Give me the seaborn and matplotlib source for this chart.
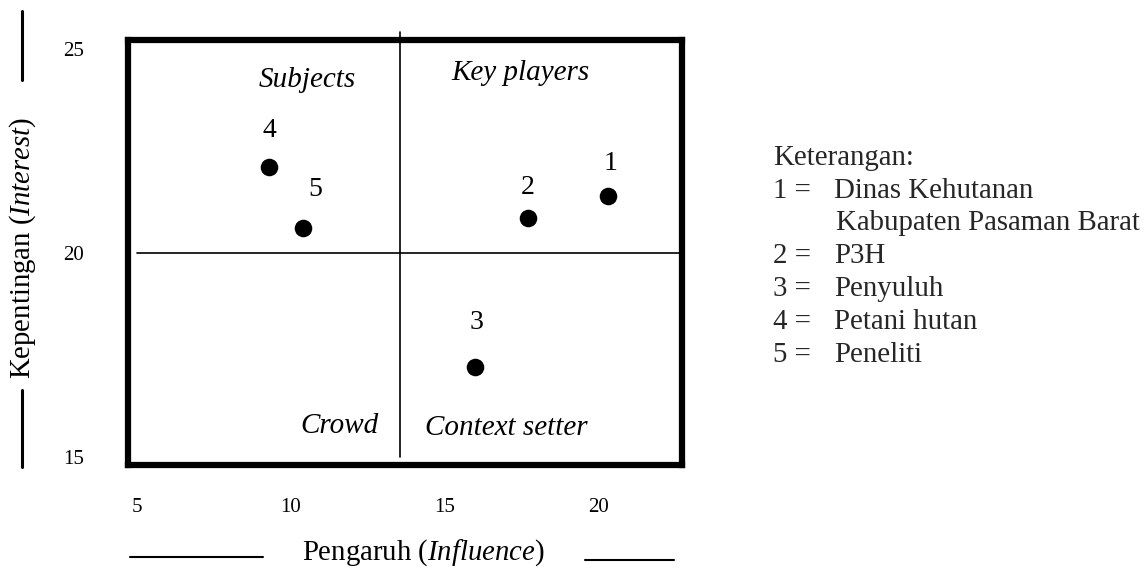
import matplotlib
matplotlib.use("Agg")
import matplotlib.pyplot as plt
from matplotlib.lines import Line2D
import seaborn as sns
import pandas as pd

# ---- data ----
stakeholder_ids = ["1", "2", "3", "4", "5"]
stakeholder_names = ["Dinas Kehutanan\nKabupaten Pasaman Barat", "P3H", "Penyuluh",
                     "Petani hutan", "Peneliti"]
influence = [20.3, 17.7, 16.0, 9.3, 10.4]
interest = [21.4, 20.85, 17.2, 22.1, 20.6]
x_ticks = [5, 10, 15, 20]
y_ticks = [15, 20, 25]
quadrant_names = ["Subjects", "Key players", "Crowd", "Context setter"]
mid_influence = 13.55
mid_interest = 20.0

df = pd.DataFrame({"id": stakeholder_ids, "influence": influence, "interest": interest})

sns.set_theme(style="white")
plt.rcParams["font.family"] = ["Liberation Serif", "DejaVu Serif"]
plt.rcParams["mathtext.fontset"] = "custom"
plt.rcParams["mathtext.rm"] = "Liberation Serif"
plt.rcParams["mathtext.it"] = "Liberation Serif:italic"

W, H = 1146, 569
fig = plt.figure(figsize=(W / 100, H / 100), dpi=100)
ax = fig.add_axes([128 / W, 1 - 465 / H, 554 / W, 425 / H])

ax.set_xlim(4.71, 22.71)
ax.set_ylim(14.80, 25.21)

sns.scatterplot(data=df, x="influence", y="interest", ax=ax, color="black",
                s=160, edgecolor="black", linewidth=0, zorder=3, legend=False)

# point number labels (offsets in points)
offsets = {"1": (2, 23), "2": (0, 22), "3": (1, 32), "4": (0, 26), "5": (9, 28)}
for i, row in df.iterrows():
    ax.annotate(row["id"], (row["influence"], row["interest"]),
                xytext=offsets[row["id"]], textcoords="offset points",
                ha="center", va="center", fontsize=20, color="black")

# quadrant dividers
ax.plot([mid_influence, mid_influence], [25.41, 14.99], color="black", lw=1.2,
        clip_on=False, zorder=2)
ax.plot([5.0, 22.64], [mid_interest, mid_interest], color="black", lw=1.2,
        clip_on=False, zorder=2)

# quadrant names
quad_pos = [(307, 80), (520, 73), (339, 426), (506, 428)]
for name, (px, py) in zip(quadrant_names, quad_pos):
    ax.text((px - 128) / 554, (465 - py) / 425, name, transform=ax.transAxes,
            ha="center", va="center", fontsize=21, style="italic", color="black")

# frame
for sp in ax.spines.values():
    sp.set_visible(True)
    sp.set_color("black")
    sp.set_linewidth(4.5)

ax.set_xticks(x_ticks)
ax.set_yticks(y_ticks)
ax.set_xticklabels([str(t) for t in x_ticks])
ax.set_yticklabels([str(t) for t in y_ticks])
ax.tick_params(axis="x", length=0, pad=24, labelsize=15, colors="black")
ax.tick_params(axis="y", length=0, pad=32, labelsize=15, colors="black")

ax.set_xlabel(r"Pengaruh ($\mathit{Influence}$)", fontsize=20.7, color="black")
ax.xaxis.set_label_coords((423 - 128) / 554, (465 - 553) / 425)
ax.xaxis.label.set_va("center")
ax.set_ylabel(r"Kepentingan ($\mathit{Interest}$)", fontsize=20.7, color="black")
ax.yaxis.set_label_coords((23 - 128) / 554, (465 - 248) / 425)
ax.yaxis.label.set_va("center")

# decorative rules around axis labels (figure pixel coords)
def px_line(x0, y0, x1, y1, lw):
    fig.add_artist(Line2D([x0 / W, x1 / W], [1 - y0 / H, 1 - y1 / H],
                          transform=fig.transFigure, color="black", lw=lw))

px_line(22, 11, 22, 80, 2.2)
px_line(22, 390, 22, 467, 2.2)
px_line(130, 557, 263, 557, 1.5)
px_line(585, 560, 674, 560, 1.5)

# legend text
fs = 20.8
fig.text(773 / W, 1 - 165 / H, "Keterangan:", fontsize=fs, va="baseline", ha="left")
baselines = [198, 263, 296, 329, 362]
for sid, name, base in zip(stakeholder_ids, stakeholder_names, baselines):
    fig.text(773 / W, 1 - base / H, f"{sid} =", fontsize=fs, va="baseline", ha="left")
    lines = name.split("\n")
    fig.text(834 / W, 1 - base / H, lines[0], fontsize=fs, va="baseline", ha="left")
    if len(lines) > 1:
        fig.text(836 / W, 1 - (base + 32) / H, lines[1], fontsize=fs,
                 va="baseline", ha="left")

fig.savefig("out.png", dpi=100)
